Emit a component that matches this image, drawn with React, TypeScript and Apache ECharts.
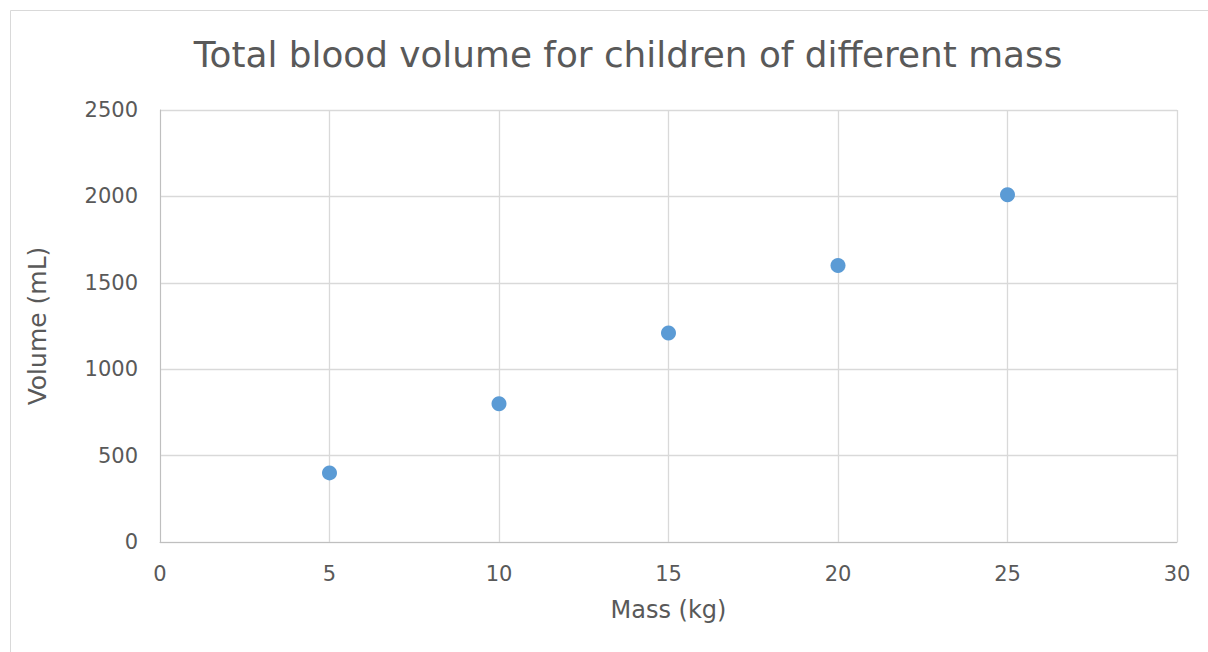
import React, { useEffect, useRef } from "react";
import * as echarts from "echarts";

const masses = [5, 10, 15, 20, 25];
const volumes = [400, 800, 1210, 1600, 2010];
const titleText = "Total blood volume for children of different mass";
const xName = "Mass (kg)";
const yName = "Volume (mL)";

export default function App() {
  const ref = useRef<HTMLDivElement>(null);
  useEffect(() => {
    document.body.style.margin = "0";
    const chart = echarts.init(ref.current!, null, { renderer: "svg" });
    const font = "DejaVu Sans";
    const textColor = "#595959";
    chart.setOption({
      animation: false,
      backgroundColor: "#ffffff",
      textStyle: { fontFamily: font },
      title: {
        text: titleText,
        left: 623,
        top: 31,
        textAlign: "center",
        textStyle: { fontFamily: font, fontSize: 35.8, fontWeight: "normal", color: textColor },
      },
      graphic: [
        {
          type: "rect",
          shape: { x: 10.5, y: 10.5, width: 1230, height: 700 },
          style: { fill: "none", stroke: "#d9d9d9", lineWidth: 1 },
          silent: true,
        },
      ],
      grid: { left: 160, top: 110, right: 31, bottom: 110, containLabel: false },
      xAxis: {
        type: "value",
        min: 0,
        max: 30,
        interval: 5,
        name: xName,
        nameLocation: "middle",
        nameGap: 56,
        nameTextStyle: { fontFamily: font, fontSize: 24, color: textColor },
        axisLine: { show: true, lineStyle: { color: "#bfbfbf", width: 1 } },
        axisTick: { show: false },
        axisLabel: { fontFamily: font, fontSize: 21, color: textColor, margin: 21 },
        splitLine: { show: true, lineStyle: { color: "#d9d9d9", width: 1.3 } },
      },
      yAxis: {
        type: "value",
        min: 0,
        max: 2500,
        interval: 500,
        name: yName,
        nameLocation: "middle",
        nameGap: 110,
        nameTextStyle: { fontFamily: font, fontSize: 25, color: textColor },
        axisLine: { show: true, lineStyle: { color: "#bfbfbf", width: 1 } },
        axisTick: { show: false },
        axisLabel: {
          fontFamily: font,
          fontSize: 21,
          color: textColor,
          margin: 22,
          formatter: (v: number) => String(v),
        },
        splitLine: { show: true, lineStyle: { color: "#d9d9d9", width: 1.3 } },
      },
      series: [
        {
          type: "scatter",
          data: masses.map((m, i) => [m, volumes[i]]),
          symbol: "circle",
          symbolSize: 15,
          itemStyle: { color: "#5B9BD5", opacity: 1 },
        },
      ],
    });
    return () => chart.dispose();
  }, []);
  return <div ref={ref} style={{ width: 1208, height: 652 }} />;
}
